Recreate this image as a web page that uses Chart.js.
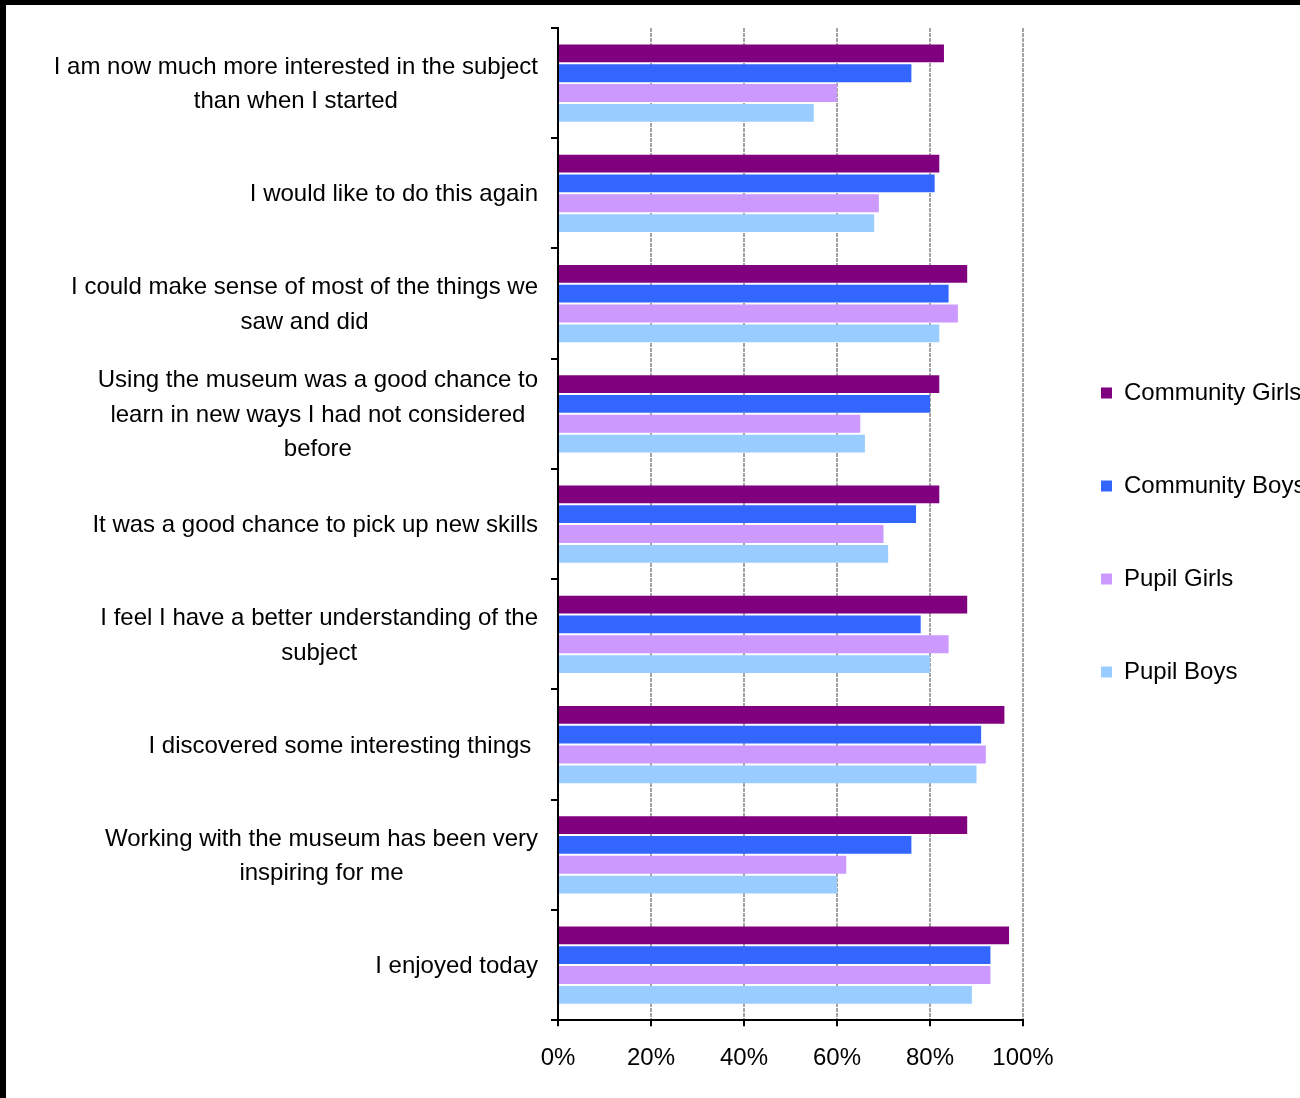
<!DOCTYPE html>
<html>
<head>
<meta charset="utf-8">
<script src="https://cdn.jsdelivr.net/npm/chart.js@4"></script>
<style>
  html, body { margin: 0; padding: 0; background: #fff; overflow: hidden; width: 1300px; height: 1098px; }
  #wrap { border-top: 5px solid #000; border-left: 6px solid #000; width: 1340px; height: 1093px; }
  canvas { display: block; }
</style>
</head>
<body>
<div id="wrap"><canvas id="surveyChart" width="1340" height="1093"></canvas></div>
<script>
// survey statements (one entry per bar group, split into display lines)
const categories = [
    ['I am now much more interested in the subject', 'than when I started'],
    ['I would like to do this again'],
    ['I could make sense of most of the things we', 'saw and did'],
    ['Using the museum was a good chance to', 'learn in new ways I had not considered', 'before'],
    ['It was a good chance to pick up new skills'],
    ['I feel I have a better understanding of the', 'subject'],
    ['I discovered some interesting things '],
    ['Working with the museum has been very', 'inspiring for me'],
    ['I enjoyed today']
];

const seriesNames = ['Community Girls', 'Community Boys', 'Pupil Girls', 'Pupil Boys'];

// percent agreeing
const communityGirls = [83, 82, 88, 82, 82, 88, 96, 88, 97];
const communityBoys  = [76, 81, 84, 80, 77, 78, 91, 76, 93];
const pupilGirls     = [60, 69, 86, 65, 70, 84, 92, 62, 93];
const pupilBoys      = [55, 68, 82, 66, 71, 80, 90, 60, 89];

const xTicks = [0, 20, 40, 60, 80, 100];

Chart.defaults.font.family = '"Liberation Sans", Arial, sans-serif';
Chart.defaults.font.size = 24;
Chart.defaults.color = '#000';

// draws the y labels: block right aligned, lines centred inside the block
const statementLabels = {
    id: 'statementLabels',
    afterDraw(chart) {
        const ctx = chart.ctx;
        const yScale = chart.scales.y;
        ctx.save();
        ctx.font = '24px "Liberation Sans", Arial, sans-serif';
        ctx.fillStyle = '#000';
        ctx.textAlign = 'center';
        ctx.textBaseline = 'middle';
        const rightEdge = yScale.right - 20;
        const lineGap = 34.5;
        categories.forEach((lines, i) => {
            const cy = yScale.getPixelForValue(i) + 1.5;
            const w = Math.max(...lines.map(l => ctx.measureText(l).width));
            const cx = rightEdge - w / 2;
            lines.forEach((l, j) => {
                ctx.fillText(l, cx, cy + (j - (lines.length - 1) / 2) * lineGap);
            });
        });
        ctx.restore();
    }
};

// nudge the legend to where it sits in the original
const legendNudge = {
    id: 'legendNudge',
    afterLayout(chart) {
        const lg = chart.legend;
        const dx = 9, dy = -27;
        lg.left += dx; lg.right += dx;
        lg.top += dy; lg.bottom += dy;
    }
};

const ctx = document.getElementById('surveyChart').getContext('2d');

let surveyChart = new Chart(ctx, {
    type: 'bar',
    data: {
        labels: categories,
        datasets: [
            { label: seriesNames[0], data: communityGirls, backgroundColor: '#800080' },
            { label: seriesNames[1], data: communityBoys,  backgroundColor: '#3366FF' },
            { label: seriesNames[2], data: pupilGirls,     backgroundColor: '#CC99FF' },
            { label: seriesNames[3], data: pupilBoys,      backgroundColor: '#99CCFF' }
        ]
    },
    options: {
        indexAxis: 'y',
        responsive: false,
        animation: false,
        categoryPercentage: 0.72,
        barPercentage: 0.9,
        layout: {
            padding: { top: 23, left: 0, right: 43, bottom: 7 }
        },
        plugins: {
            tooltip: { enabled: false },
            legend: {
                position: 'right',
                maxWidth: 280,
                labels: {
                    boxWidth: 11,
                    boxHeight: 11,
                    padding: 69,
                    font: { size: 24 },
                    color: '#000'
                }
            }
        },
        scales: {
            x: {
                min: 0,
                max: 100,
                afterBuildTicks: (scale) => {
                    scale.ticks = xTicks.map(v => ({ value: v }));
                },
                ticks: {
                    padding: 18,
                    callback: (v) => v + '%',
                    font: { size: 24 }
                },
                grid: {
                    color: (c) => c.index === 0 ? 'rgba(0,0,0,0)' : '#a3a3a3',
                    lineWidth: 2,
                    tickColor: '#000',
                    tickWidth: 2,
                    tickLength: 6
                },
                border: { color: '#000', width: 2, dash: [4, 1] }
            },
            y: {
                afterFit: (scale) => { scale.width = 552; },
                ticks: { display: false },
                grid: {
                    drawOnChartArea: false,
                    color: '#000',
                    lineWidth: 2,
                    tickLength: 7
                },
                border: { color: '#000', width: 2 }
            }
        }
    },
    plugins: [statementLabels, legendNudge]
});
</script>
</body>
</html>
